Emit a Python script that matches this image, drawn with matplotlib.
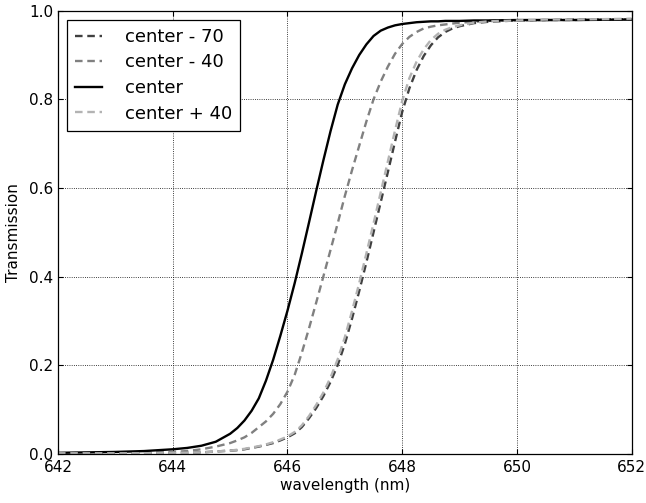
import matplotlib
matplotlib.use('Agg')
import matplotlib.pyplot as plt

# wavelength grid (nm) and transmission values
wl = [642, 643, 643.5, 644, 644.25, 644.5, 644.75, 645,
      645.125, 645.25, 645.375, 645.5, 645.625, 645.75, 645.875, 646,
      646.125, 646.25, 646.375, 646.5, 646.625, 646.75, 646.875, 647,
      647.125, 647.25, 647.375, 647.5, 647.625, 647.75, 647.875, 648,
      648.125, 648.25, 648.375, 648.5, 648.625, 648.75, 648.875, 649,
      649.25, 649.5, 650, 650.5, 651, 652]

t_center = [0.002, 0.004, 0.006, 0.010, 0.013, 0.018, 0.027, 0.045,
            0.058, 0.075, 0.097, 0.125, 0.165, 0.212, 0.266, 0.323,
            0.385, 0.452, 0.522, 0.593, 0.662, 0.728, 0.788, 0.834,
            0.87, 0.9, 0.924, 0.943, 0.955, 0.962, 0.967, 0.97,
            0.972, 0.974, 0.975, 0.976, 0.976, 0.977, 0.977, 0.977,
            0.978, 0.978, 0.979, 0.979, 0.979, 0.98]

t_minus40 = [0.001, 0.002, 0.003, 0.004, 0.006, 0.01, 0.016, 0.024,
             0.03, 0.037, 0.047, 0.06, 0.073, 0.09, 0.112, 0.14,
             0.178, 0.228, 0.283, 0.341, 0.4, 0.46, 0.52, 0.582,
             0.64, 0.695, 0.75, 0.8, 0.84, 0.874, 0.903, 0.925,
             0.941, 0.952, 0.96, 0.964, 0.967, 0.969, 0.971, 0.973,
             0.975, 0.977, 0.978, 0.979, 0.979, 0.981]

t_minus70 = [0.001, 0.001, 0.001, 0.002, 0.002, 0.003, 0.005, 0.007,
             0.008, 0.01, 0.013, 0.016, 0.02, 0.024, 0.03, 0.037,
             0.046, 0.06, 0.08, 0.103, 0.13, 0.162, 0.2, 0.248,
             0.305, 0.367, 0.432, 0.5, 0.568, 0.636, 0.705, 0.772,
             0.825, 0.866, 0.898, 0.922, 0.94, 0.952, 0.96, 0.965,
             0.972, 0.975, 0.978, 0.979, 0.98, 0.981]

t_plus40 = [0.001, 0.001, 0.001, 0.002, 0.002, 0.003, 0.005, 0.007,
            0.009, 0.011, 0.014, 0.017, 0.021, 0.026, 0.032, 0.039,
            0.049, 0.064, 0.085, 0.11, 0.138, 0.172, 0.213, 0.263,
            0.322, 0.385, 0.452, 0.52, 0.59, 0.66, 0.73, 0.797,
            0.848, 0.885, 0.913, 0.934, 0.948, 0.957, 0.963, 0.967,
            0.973, 0.976, 0.978, 0.98, 0.98, 0.982]

plt.rcParams['font.family'] = 'DejaVu Sans'
plt.rcParams['font.size'] = 11

fig = plt.figure(figsize=(6.46, 5.03), dpi=100)
ax = fig.add_subplot(111)
fig.subplots_adjust(left=0.0898, right=0.9779, bottom=0.098, top=0.9787)

dash = (3.2, 2.0)
ax.plot(wl, t_minus70, '--', dashes=dash, color='0.25', lw=1.7, label='center - 70')
ax.plot(wl, t_minus40, '--', dashes=dash, color='0.5', lw=1.7, label='center - 40')
ax.plot(wl, t_center, '-', color='k', lw=1.7, label='center')
ax.plot(wl, t_plus40, '--', dashes=dash, color='0.7', lw=1.7, label='center + 40')

ax.set_xlim(642, 652)
ax.set_ylim(0, 1)
ax.set_xticks([642, 644, 646, 648, 650, 652])
ax.set_yticks([0.0, 0.2, 0.4, 0.6, 0.8, 1.0])
ax.set_yticklabels(['0.0', '0.2', '0.4', '0.6', '0.8', '1.0'])
ax.grid(True, color='k', linestyle=':', linewidth=0.6)
ax.tick_params(direction='in', top=True, right=True, length=3.5, width=0.8, labelsize=11)
ax.tick_params(axis='x', pad=4.5)
for s in ax.spines.values():
    s.set_linewidth(0.9)

ax.set_xlabel('wavelength (nm)', fontsize=11, labelpad=2)
ax.set_ylabel('Transmission', fontsize=11, labelpad=6)

leg = ax.legend(loc='upper left', fontsize=13, handlelength=1.5, handletextpad=1.25,
                labelspacing=0.42, borderpad=0.45, borderaxespad=0.5, fancybox=False,
                framealpha=1, edgecolor='k')
leg.get_frame().set_linewidth(0.9)

fig.savefig('out.png', dpi=100)
